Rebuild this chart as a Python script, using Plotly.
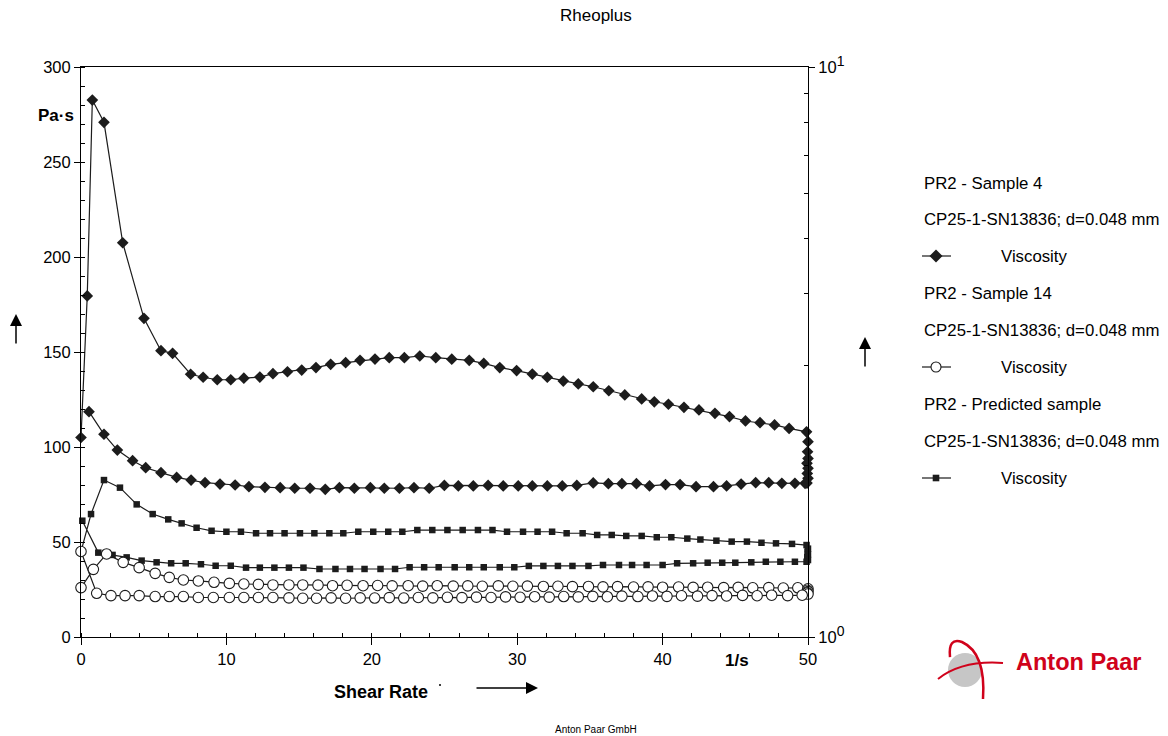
import plotly.graph_objects as go

# ---------------- data ----------------
# PR2 - Sample 4 (filled diamonds): ramp up, hold at 50 1/s, ramp down
s4_up_x = [0, 0.43, 0.78, 1.58, 2.87, 4.33, 5.5, 6.3, 7.54, 8.4, 9.37, 10.3, 11.2, 12.3, 13.2, 14.2,
           15.18, 16.16, 17.17, 18.2, 19.19, 20.22, 21.2, 22.24, 23.3, 24.4, 25.5, 26.7, 27.7, 28.8,
           29.96, 31.04, 32.07, 33.17, 34.2, 35.23, 36.3, 37.4, 38.56, 39.43, 40.4, 41.47, 42.5,
           43.6, 44.6, 45.7, 46.7, 47.7, 48.7, 49.9]
s4_up_y = [105, 179.5, 282.6, 270.9, 207.5, 167.7, 150.7, 149.3, 138.3, 136.7, 135.4, 135.4, 136.2,
           136.8, 138.6, 139.6, 140.5, 141.8, 143.5, 144.4, 145.6, 146.3, 147, 147, 147.9, 147, 146.2,
           145.6, 144, 141.8, 140.2, 138.4, 136.7, 134.7, 133.2, 131.7, 129.6, 127.4, 125.3, 123.8,
           122.5, 120.9, 119.5, 117.7, 116, 113.7, 112.8, 111.6, 109.8, 108]
s4_hold_x = [50.0, 49.97, 50.0, 49.93, 50.0, 49.95, 50.0, 49.93]
s4_hold_y = [102.8, 97.5, 94.0, 91.4, 88.8, 86.1, 83.5, 81.0]
s4_down_x = [49.8, 49.1, 48.2, 47.3, 46.4, 45.4, 44.4, 43.5, 42.3, 41.2, 40.2, 39.1, 38.2, 37.2,
             36.27, 35.23, 34.1, 33.1, 32.07, 31.04, 30.07, 29.04, 28.0, 26.98, 25.95, 24.99, 23.95,
             22.9, 21.9, 20.86, 19.9, 18.8, 17.77, 16.8, 15.75, 14.7, 13.7, 12.65, 11.55, 10.6, 9.56,
             8.53, 7.57, 6.58, 5.5, 4.45, 3.55, 2.5, 1.58, 0.55]
s4_down_y = [80.9, 80.9, 80.9, 81.2, 81.2, 80.5, 79.5, 79.1, 79.1, 80.2, 80.2, 79.5, 80.7, 80.7,
             80.7, 81.1, 79.8, 79.5, 79.5, 79.5, 79.5, 79.5, 79.8, 79.5, 79.5, 79.8, 78.3, 78.6,
             78.3, 78.3, 78.6, 78.3, 78.6, 77.7, 78.3, 78.3, 78.6, 78.8, 79.1, 80.0, 80.5, 81.2,
             82.6, 84.0, 86.5, 89.1, 92.8, 98.4, 106.7, 118.6]

# PR2 - Sample 14 (open circles)
s14_up_x = [0, 0.85, 1.76, 2.9, 4.0, 5.1, 6.07, 7.04, 8.07, 9.15, 10.2, 11.2, 12.2, 13.2, 14.3, 15.25,
            16.3, 17.3, 18.3, 19.4, 20.4, 21.4, 22.5, 23.5, 24.5, 25.6, 26.6, 27.6, 28.7, 29.7, 30.7,
            31.8, 32.8, 33.8, 34.9, 35.9, 36.9, 38.0, 39.0, 40.0, 41.1, 42.1, 43.1, 44.2, 45.2, 46.2,
            47.3, 48.3, 49.3]
s14_up_y = [26, 35.6, 43.7, 39.3, 36.5, 33.5, 31.4, 30, 29.5, 28.8, 28.2, 27.9, 27.7, 27.4, 27.4, 27.4,
            27.3, 27.0, 27.2, 27.0, 27.1, 26.9, 27.0, 26.8, 27.0, 26.8, 26.9, 26.7, 26.9, 26.7, 26.8,
            26.6, 26.7, 26.5, 26.6, 26.4, 26.5, 26.3, 26.4, 26.2, 26.3, 26.1, 26.2, 26.0, 26.1, 25.9,
            26.0, 25.8, 25.9]
s14_hold_x = [50.0, 49.96, 50.0, 49.95, 50.0]
s14_hold_y = [25.4, 24.6, 23.9, 23.2, 22.6]
s14_down_x = [49.6, 48.6, 47.5, 46.5, 45.5, 44.4, 43.4, 42.4, 41.3, 40.3, 39.3, 38.3, 37.2, 36.2,
              35.2, 34.2, 33.2, 32.2, 31.2, 30.2, 29.2, 28.2, 27.2, 26.2, 25.2, 24.2, 23.2, 22.2,
              21.2, 20.2, 19.2, 18.2, 17.2, 16.2, 15.25, 14.3, 13.2, 12.2, 11.2, 10.2, 9.1, 8.07,
              7.04, 6.07, 5.1, 4.0, 3.03, 2.06, 1.08, 0]
s14_down_y = [22.0, 21.8, 22.0, 21.7, 21.9, 21.6, 21.8, 21.5, 21.7, 21.4, 21.6, 21.3, 21.5, 21.2,
              21.4, 21.1, 21.3, 21.0, 21.2, 20.9, 21.1, 20.8, 21.0, 20.7, 20.9, 20.6, 20.8, 20.5,
              20.7, 20.5, 20.6, 20.4, 20.6, 20.4, 20.4, 20.6, 20.8, 20.8, 20.8, 20.8, 20.8, 20.8,
              21.3, 21.3, 21.3, 21.8, 21.8, 21.8, 23.0, 45.0]

# PR2 - Predicted sample (filled squares)
pr_up_x = [0, 0.69, 1.58, 2.68, 3.83, 4.93, 6.0, 6.92, 7.95, 8.98, 10.0, 11.0, 12.04, 13.0, 14.0,
           15.06, 16.05, 17.08, 18.04, 19.07, 20.1, 21.13, 22.1, 23.13, 24.16, 25.2, 26.25, 27.3,
           28.3, 29.3, 30.4, 31.4, 32.4, 33.4, 34.5, 35.5, 36.5, 37.5, 38.56, 39.6, 40.6, 41.7, 42.6,
           43.7, 44.75, 45.8, 46.8, 47.8, 48.9, 49.9]
pr_up_y = [44.9, 64.7, 82.6, 78.6, 69.8, 64.7, 61.9, 59.8, 57.5, 55.9, 55.4, 55.4, 54.6, 54.6, 54.6,
           54.6, 54.6, 54.6, 54.6, 55.4, 55.4, 55.4, 55.4, 56.3, 56.3, 56.3, 56.3, 56.3, 56.3, 55.4,
           55.4, 55.4, 55.4, 54.6, 54.6, 53.7, 53.7, 53.2, 53.2, 52.5, 52.5, 51.8, 51.3, 50.7, 50.2,
           50.2, 49.6, 49.3, 49.0, 48.4]
pr_hold_x = [50.0, 49.97, 50.0, 49.95, 50.0]
pr_hold_y = [46.5, 44.9, 43.5, 42.0, 40.5]
pr_down_x = [49.9, 49.1, 48.1, 47.1, 46.1, 45.0, 44.1, 43.1, 42.1, 41.0, 40.0, 38.9, 37.9, 37.0, 35.9,
             34.9, 33.8, 32.8, 31.8, 30.8, 29.8, 28.8, 27.7, 26.7, 25.7, 24.6, 23.6, 22.6, 21.6, 20.6,
             19.5, 18.5, 17.5, 16.4, 15.3, 14.3, 13.3, 12.3, 11.35, 10.3, 9.26, 8.25, 7.2, 6.2, 5.2,
             4.17, 3.14, 2.17, 1.19, 0.09]
pr_down_y = [39.6, 39.6, 39.6, 39.6, 39.3, 39.1, 39.1, 39.1, 38.8, 38.8, 37.9, 37.9, 37.9, 37.9, 37.9,
             37.4, 37.4, 37.4, 37.4, 37.4, 36.7, 36.7, 36.7, 36.7, 36.7, 36.7, 36.7, 36.7, 35.8, 35.8,
             35.8, 35.8, 35.8, 35.8, 36.5, 36.5, 36.5, 36.5, 36.5, 37.5, 37.5, 38.3, 38.8, 38.8, 39.3,
             40.2, 41.9, 43.2, 44.4, 61.2]

x_ticks = [0, 10, 20, 30, 40, 50]
y_ticks = [0, 50, 100, 150, 200, 250, 300]
y2_ticks = [1, 10]
y2_labels = ["10<sup><span style='font-size:14px'>0</span></sup>",
             "10<sup><span style='font-size:14px'>1</span></sup>"]

legend_lines = [
    ("PR2 - Sample 4", "CP25-1-SN13836; d=0.048 mm", "Viscosity"),
    ("PR2 - Sample 14", "CP25-1-SN13836; d=0.048 mm", "Viscosity"),
    ("PR2 - Predicted sample", "CP25-1-SN13836; d=0.048 mm", "Viscosity"),
]

# ---------------- figure ----------------
W, H = 1168, 736
L, R, T, B = 81, 808, 67, 637
FONT = "Liberation Sans, Arial, sans-serif"
INK = "#1c1c1c"
RED = "#d0021b"


def px(x):
    return (x - L) / (R - L)


def py(y):
    return (B - y) / (B - T)


def path(points, closed=False):
    s = "M " + " L ".join(f"{px(a):.5f},{py(b):.5f}" for a, b in points)
    return s + (" Z" if closed else "")


fig = go.Figure()
line = dict(color=INK, width=1.2)

fig.add_trace(go.Scatter(
    x=s4_up_x + s4_hold_x + s4_down_x, y=s4_up_y + s4_hold_y + s4_down_y,
    mode="lines+markers", line=line, cliponaxis=False, showlegend=False,
    marker=dict(symbol="diamond", size=9, color=INK, line=dict(width=0))))
fig.add_trace(go.Scatter(
    x=pr_up_x + pr_hold_x + pr_down_x, y=pr_up_y + pr_hold_y + pr_down_y,
    mode="lines+markers", line=line, cliponaxis=False, showlegend=False,
    marker=dict(symbol="square", size=6.5, color=INK, line=dict(width=0))))
fig.add_trace(go.Scatter(
    x=s14_up_x + s14_hold_x + s14_down_x, y=s14_up_y + s14_hold_y + s14_down_y,
    mode="lines+markers", line=line, cliponaxis=False, showlegend=False,
    marker=dict(symbol="circle", size=10.5, color="white", line=dict(color=INK, width=1.1))))
fig.add_trace(go.Scatter(x=[None], y=[None], yaxis="y2", showlegend=False, hoverinfo="skip"))

axis_common = dict(showline=True, linecolor="black", linewidth=1, showgrid=False, zeroline=False,
                   ticks="outside", tickcolor="black", tickwidth=1,
                   tickfont=dict(family=FONT, size=16.5, color="black"))

fig.update_layout(
    width=W, height=H, autosize=False,
    margin=dict(l=L, r=W - R, t=T, b=H - B, pad=0),
    paper_bgcolor="white", plot_bgcolor="white",
    font=dict(family=FONT, color="black"),
    showlegend=False,
    xaxis=dict(range=[0, 50], tickvals=x_ticks, ticklen=7, mirror=True,
               minor=dict(dtick=2, ticks="inside", ticklen=4, tickcolor="black"),
               **axis_common),
    yaxis=dict(range=[0, 300], tickvals=y_ticks, ticklen=6,
               minor=dict(dtick=10, ticks="inside", ticklen=4, tickcolor="black"),
               **axis_common),
    yaxis2=dict(overlaying="y", side="right", type="log", range=[0, 1],
                tickmode="array", tickvals=y2_ticks, ticktext=y2_labels, ticklen=6,
                minor=dict(tickmode="array", tickvals=[2, 3, 4, 5, 6, 7, 8, 9],
                           ticks="inside", ticklen=4, tickcolor="black"),
                **axis_common),
)

ann = []


def text(x, y, s, size=16, bold=False, anchor="center", color="black"):
    ann.append(dict(x=px(x), y=py(y), xref="paper", yref="paper", text=(f"<b>{s}</b>" if bold else s),
                    showarrow=False, xanchor=anchor, yanchor="middle",
                    font=dict(family=FONT, size=size, color=color)))


text(596, 16, "Rheoplus", 17)
text(56, 115, "Pa·s", 17, bold=True)
text(737, 660, "1/s", 17, bold=True)
text(381, 692, "Shear Rate", 18, bold=True)
text(596, 729, "Anton Paar GmbH", 10)
text(1078, 662, "Anton Paar", 23.5, bold=True, color=RED)

ys = [183, 219, 256, 293, 330, 367, 404, 441, 478]
i = 0
for head, geo, name in legend_lines:
    text(922, ys[i], head, 16.8, anchor="left")
    text(922, ys[i + 1], geo, 16.8, anchor="left")
    text(999, ys[i + 2], name, 16.8, anchor="left")
    i += 3

# axis direction arrows
def arrow(x, y, ax, ay):
    ann.append(dict(x=px(x), y=py(y), xref="paper", yref="paper", text="", showarrow=True,
                    ax=ax, ay=ay, arrowhead=2, arrowsize=1.6, arrowwidth=1.5, arrowcolor="black",
                    standoff=0, startstandoff=0))


arrow(16, 314, 0, 31)
arrow(865, 337, 0, 31)
arrow(538, 688, -63, 0)

fig.update_layout(annotations=ann)

shapes = []
# legend keys
for yk in (256, 367, 478):
    shapes.append(dict(type="line", xref="paper", yref="paper", x0=px(922), x1=px(951),
                       y0=py(yk), y1=py(yk), line=dict(color=INK, width=1.2)))
shapes.append(dict(type="path", xref="paper", yref="paper",
                   path=path([(936, 249.5), (942.5, 256), (936, 262.5), (929.5, 256)], True),
                   fillcolor=INK, line=dict(width=0)))
shapes.append(dict(type="circle", xref="paper", yref="paper", x0=px(931), x1=px(941),
                   y0=py(372), y1=py(362), fillcolor="white", line=dict(color=INK, width=1.1)))
shapes.append(dict(type="rect", xref="paper", yref="paper", x0=px(932.7), x1=px(939.3),
                   y0=py(481.3), y1=py(474.7), fillcolor=INK, line=dict(width=0)))
# tiny dot next to Shear Rate
shapes.append(dict(type="circle", xref="paper", yref="paper", x0=px(439), x1=px(441),
                   y0=py(686), y1=py(684), fillcolor="black", line=dict(width=0)))
# Anton Paar logo graphic
shapes.append(dict(type="circle", xref="paper", yref="paper", x0=px(948), x1=px(982),
                   y0=py(687), y1=py(653), fillcolor="#c6c6c6", line=dict(width=0)))
shapes.append(dict(type="path", xref="paper", yref="paper",
                   path=f"M {px(945):.5f},{py(668):.5f} Q {px(948):.5f},{py(651):.5f} {px(968):.5f},{py(651):.5f}",
                   line=dict(color="white", width=3)))
shapes.append(dict(type="path", xref="paper", yref="paper",
                   path=(f"M {px(950):.5f},{py(657):.5f} Q {px(948):.5f},{py(637):.5f} {px(962):.5f},{py(642):.5f} "
                         f"Q {px(986):.5f},{py(653):.5f} {px(983):.5f},{py(699):.5f}"),
                   line=dict(color=RED, width=2.5)))
shapes.append(dict(type="path", xref="paper", yref="paper",
                   path=f"M {px(938):.5f},{py(679):.5f} Q {px(962):.5f},{py(660):.5f} {px(1003):.5f},{py(663):.5f}",
                   line=dict(color=RED, width=2)))
fig.update_layout(shapes=shapes)

fig.write_html("out.html")
